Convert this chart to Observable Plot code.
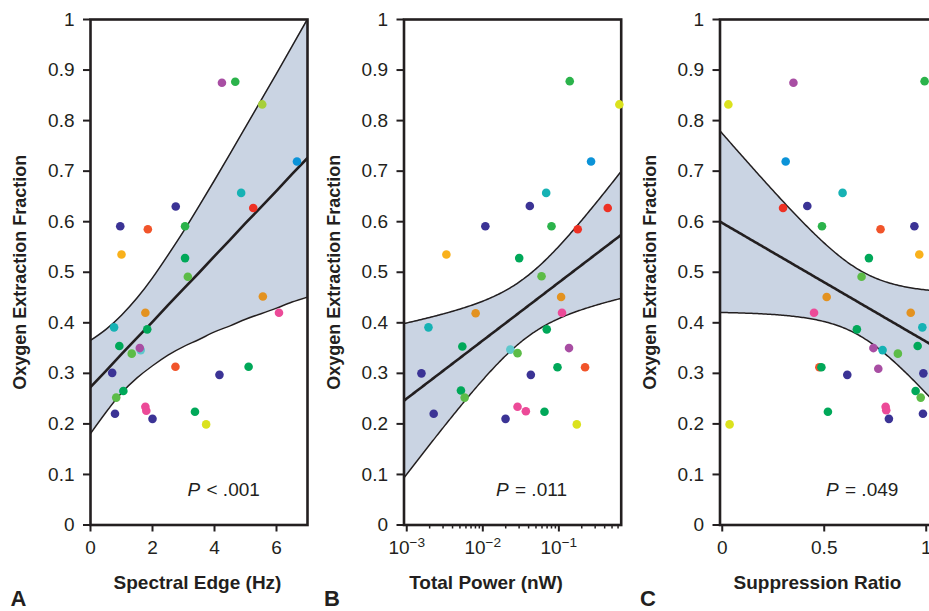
<!DOCTYPE html>
<html><head><meta charset="utf-8">
<script src="https://cdn.jsdelivr.net/npm/d3@7"></script>
<script src="https://cdn.jsdelivr.net/npm/@observablehq/plot@0.6"></script>
<style>
html,body{margin:0;padding:0;background:#fff;}
#wrap{position:relative;width:929px;height:611px;overflow:hidden;}
.panel{position:absolute;top:0;}
.panel svg{max-width:none !important;}
</style></head>
<body><div id="wrap"></div>
<script>
// ---------- colours ----------
const IND="#3b3395", MAG="#a84ea3", GRN="#2bb34b", DGR="#00a859", LGR="#5cbc47",
      YG="#a7cf3a", YEL="#dbe21d", BLU="#0b93d8", TEA="#16b2b4", RED="#ee3124",
      ROR="#f1542a", ORG="#f9b11b", DOR="#e39220", PNK="#ec4a98", LCY="#5ec8cc";

// ---------- shared axis ticks ----------
const yTicks = [0,0.1,0.2,0.3,0.4,0.5,0.6,0.7,0.8,0.9,1];
const yTickLabels = ["0","0.1","0.2","0.3","0.4","0.5","0.6","0.7","0.8","0.9","1"];
const yLabel = "Oxygen Extraction Fraction";

// ---------- Panel A: Spectral Edge (Hz) ----------
const edgeHz = [4.24,4.67,5.54,6.66,4.86,5.25,2.75,0.96,1.85,3.05,1.00,3.05,3.14,5.56,6.08,1.77,0.76,1.83,0.93,1.33,1.62,1.59,2.74,4.16,5.10,0.70,1.06,0.83,1.77,1.80,0.79,2.00,3.37,3.73];
const oefA   = [0.875,0.877,0.832,0.719,0.657,0.627,0.630,0.591,0.585,0.591,0.535,0.528,0.491,0.452,0.420,0.420,0.391,0.387,0.354,0.339,0.346,0.350,0.313,0.297,0.313,0.301,0.265,0.252,0.234,0.226,0.220,0.210,0.224,0.199];
const colA   = [MAG,GRN,YG,BLU,TEA,RED,IND,IND,ROR,GRN,ORG,DGR,LGR,DOR,PNK,DOR,TEA,DGR,DGR,LGR,LCY,MAG,ROR,IND,DGR,IND,DGR,LGR,PNK,PNK,IND,IND,DGR,YEL];
const xTicksA = [0,2,4,6];
// fitted line and 95% band of panel A
const bandXA  = [0,0.5,1,1.5,2,2.5,3,3.5,4,4.5,5,5.5,6,6.5,7];
const bandFitA= [0.273,0.305,0.338,0.370,0.402,0.435,0.467,0.499,0.532,0.564,0.597,0.629,0.661,0.694,0.726];
const bandLoA = [0.181,0.223,0.261,0.291,0.315,0.336,0.353,0.367,0.382,0.394,0.407,0.418,0.429,0.441,0.451];
const bandHiA = [0.365,0.387,0.415,0.449,0.489,0.534,0.581,0.631,0.682,0.734,0.787,0.840,0.893,0.947,1.001];

// ---------- Panel B: Total Power (nW) ----------
const powerNW = [0.139,0.624,0.265,0.0681,0.0415,0.439,0.0108,0.0800,0.177,0.00332,0.0301,0.0592,0.107,0.110,0.00805,0.00193,0.0693,0.00538,0.0230,0.0286,0.136,0.00156,0.0959,0.221,0.0428,0.00516,0.00577,0.00226,0.0286,0.0368,0.0647,0.0199,0.172];
const oefB    = [0.878,0.832,0.719,0.657,0.631,0.627,0.591,0.591,0.585,0.535,0.528,0.492,0.451,0.420,0.419,0.391,0.387,0.353,0.347,0.340,0.350,0.300,0.312,0.312,0.297,0.266,0.252,0.220,0.234,0.225,0.224,0.210,0.199];
const colB    = [GRN,YEL,BLU,TEA,IND,RED,IND,GRN,RED,ORG,DGR,LGR,DOR,PNK,DOR,TEA,DGR,DGR,LCY,LGR,MAG,IND,DGR,ROR,IND,DGR,LGR,IND,PNK,PNK,DGR,IND,YEL];
const xTicksB = [0.001,0.01,0.1];
const xMinorB = [0.002,0.003,0.004,0.005,0.006,0.007,0.008,0.009,0.02,0.03,0.04,0.05,0.06,0.07,0.08,0.09,0.2,0.3,0.4,0.5,0.6];

// ---------- Panel C: Suppression Ratio ----------
const suppRatio = [0.030,0.349,0.992,0.311,0.590,0.298,0.417,0.489,0.776,0.942,0.966,0.719,0.683,0.512,0.450,0.924,0.981,0.660,0.958,0.741,0.786,0.861,0.476,0.486,0.765,0.613,0.986,0.948,0.973,0.984,0.801,0.804,0.817,0.518,0.036];
const oefC      = [0.832,0.875,0.878,0.719,0.657,0.627,0.631,0.591,0.585,0.591,0.535,0.528,0.491,0.451,0.420,0.420,0.391,0.387,0.354,0.350,0.346,0.339,0.312,0.312,0.309,0.297,0.300,0.265,0.252,0.220,0.234,0.227,0.210,0.224,0.199];
const colC      = [YEL,MAG,GRN,BLU,TEA,RED,IND,GRN,ROR,IND,ORG,DGR,LGR,DOR,PNK,DOR,TEA,DGR,DGR,MAG,TEA,LGR,ROR,DGR,MAG,IND,IND,DGR,LGR,IND,PNK,PNK,IND,DGR,YEL];
const xTicksC = [0,0.5,1];
const xTickLabelsC = ["0","0.5","1"];

// ---------- text ----------
const xLabels = ["Spectral Edge (Hz)","Total Power (nW)","Suppression Ratio"];
const letters = ["A","B","C"];
const pOps = ["< .001","= .011","= .049"];

// ---------- regression with 95% confidence band (panels B, C) ----------
function tq975(df){const z=1.959964,z3=z**3,z5=z**5,z7=z**7;
  return z+(z3+z)/(4*df)+(5*z5+16*z3+3*z)/(96*df*df)+(3*z7+19*z5+17*z3-15*z)/(384*df**3);}
function regBand(xs, ys, lo, hi, steps=160){
  const n=xs.length, mx=d3.mean(xs), my=d3.mean(ys);
  let sxx=0,sxy=0; for(let i=0;i<n;i++){sxx+=(xs[i]-mx)**2; sxy+=(xs[i]-mx)*(ys[i]-my);}
  const b=sxy/sxx, a=my-b*mx;
  let sse=0; for(let i=0;i<n;i++) sse+=(ys[i]-a-b*xs[i])**2;
  const s=Math.sqrt(sse/(n-2)), t=tq975(n-2);
  return d3.range(steps+1).map(k=>{const x=lo+(hi-lo)*k/steps, f=a+b*x, se=s*Math.sqrt(1/n+(x-mx)**2/sxx);
    return {x, fit:f, lo:f-t*se, hi:f+t*se};});
}

const INK="#231f20";
const FONT="'Liberation Sans', Arial, Helvetica, sans-serif";

function makePanel(cfg){
  const {left,width,ml,mr,xType,xDomain,xs,ys,cs,bd,xTicks,xFmt,minor,idx,labelDx,labelLen,pDx} = cfg;
  const I = d3.range(xs.length);
  const curve = cfg.curve || "linear";
  const marks = [
    Plot.areaY(bd,{x:"X",y1:"lo",y2:"hi",fill:"#cad4e3",clip:true,curve}),
    Plot.line(bd,{x:"X",y:"lo",stroke:INK,strokeWidth:1.5,clip:true,curve}),
    Plot.line(bd,{x:"X",y:"hi",stroke:INK,strokeWidth:1.5,clip:true,curve}),
    Plot.line(bd,{x:"X",y:"fit",stroke:INK,strokeWidth:2.6,clip:true}),
    Plot.frame({stroke:INK,strokeWidth:2.6}),
    Plot.axisY({ticks:yTicks,tickFormat:d=>yTickLabels[yTicks.indexOf(d)],tickSize:7,tickPadding:9,strokeWidth:2,stroke:INK,label:null,fontSize:19}),
    Plot.axisX({ticks:xTicks,tickFormat:xFmt,tickSize:7,tickPadding:8,strokeWidth:2,stroke:INK,label:null,fontSize:19}),
  ];
  if (minor) marks.push(Plot.axisX({ticks:minor,tickFormat:()=>"",tickSize:4,strokeWidth:1.5,stroke:INK,label:null}));
  marks.push(
    Plot.dot(I,{x:i=>xs[i],y:i=>ys[i],fill:i=>cs[i],r:4.3,stroke:null}),
    Plot.text([yLabel],{frameAnchor:"left",rotate:-90,dx:-70,textAnchor:"middle",fontWeight:"bold",fontSize:18,fill:INK}),
    Plot.text([xLabels[idx]],{frameAnchor:"bottom-left",dx:labelDx,dy:64,textAnchor:"middle",fontWeight:"bold",fontSize:19,fill:INK,ariaLabel:"xlabel"}),
    Plot.text([letters[idx]],{frameAnchor:"bottom-left",dx:-72,dy:80.5,textAnchor:"middle",fontWeight:"bold",fontSize:22,fill:INK,ariaLabel:"letter"}),
    Plot.text(["P"],{frameAnchor:"bottom-left",dx:pDx,dy:-29,textAnchor:"start",fontStyle:"italic",fontSize:19,fill:INK}),
    Plot.text([pOps[idx]],{frameAnchor:"bottom-left",dx:pDx+19,dy:-29,textAnchor:"start",fontSize:19,fill:INK})
  );
  const p = Plot.plot({
    width, height:611, marginTop:19, marginBottom:86.5, marginLeft:ml, marginRight:mr,
    x:{type:xType,domain:xDomain}, y:{domain:[0,1]}, color:{type:"identity"},
    style:{fontFamily:FONT,fontSize:"19px",color:INK,background:"transparent",overflow:"visible",maxWidth:"none"},
    marks
  });
  p.style.maxWidth="none";
  d3.select(p).selectAll('g[aria-label="xlabel"] text').attr("textLength",labelLen).attr("lengthAdjust","spacingAndGlyphs");
  d3.select(p).selectAll('g[aria-label="letter"] text').attr("textLength",16).attr("lengthAdjust","spacingAndGlyphs");
  const div=document.createElement("div"); div.className="panel"; div.style.left=left+"px"; div.style.width=width+"px";
  div.appendChild(p); document.getElementById("wrap").appendChild(div);
  return p;
}

// Panel A (band)
const bdA = bandXA.map((x,i)=>({X:x, fit:bandFitA[i], lo:bandLoA[i], hi:bandHiA[i]}));
makePanel({left:0,width:318,ml:90,mr:11,xType:"linear",xDomain:[0,7],xs:edgeHz,ys:oefA,cs:colA,bd:bdA,curve:"natural",
  xTicks:xTicksA,xFmt:d=>String(d),idx:0,labelDx:107,labelLen:136,pDx:97});

// Panel B (regression on log10 power)
const bdB = regBand(powerNW.map(Math.log10), oefB, Math.log10(0.00092), Math.log10(0.66)).map(d=>({...d, X:10**d.x}));
const pB = makePanel({left:315,width:315,ml:88.5,mr:9.3,xType:"log",xDomain:[0.00092,0.66],xs:powerNW,ys:oefB,cs:colB,bd:bdB,
  xTicks:xTicksB,xFmt:d=>String(Math.round(Math.log10(d))),minor:xMinorB,idx:1,labelDx:82,labelLen:136,pDx:92});

// Panel C
const bdC = regBand(suppRatio, oefC, -0.011, 1.119).map(d=>({...d, X:d.x}));
makePanel({left:630,width:320,ml:89.5,mr:0,xType:"linear",xDomain:[-0.011,1.119],xs:suppRatio,ys:oefC,cs:colC,bd:bdC,
  xTicks:xTicksC,xFmt:d=>xTickLabelsC[xTicksC.indexOf(d)],idx:2,labelDx:97.5,labelLen:167,pDx:106});

// superscript exponents for the log axis
d3.select(pB).selectAll('g[aria-label="x-axis tick label"] text').each(function(){
  const e=this.textContent; if(!e) return;
  const t=d3.select(this); t.text("10");
  t.append("tspan").attr("dy","-0.5em").attr("font-size","0.72em").text("\u2212"+Math.abs(+e));
});
</script>
</body></html>
